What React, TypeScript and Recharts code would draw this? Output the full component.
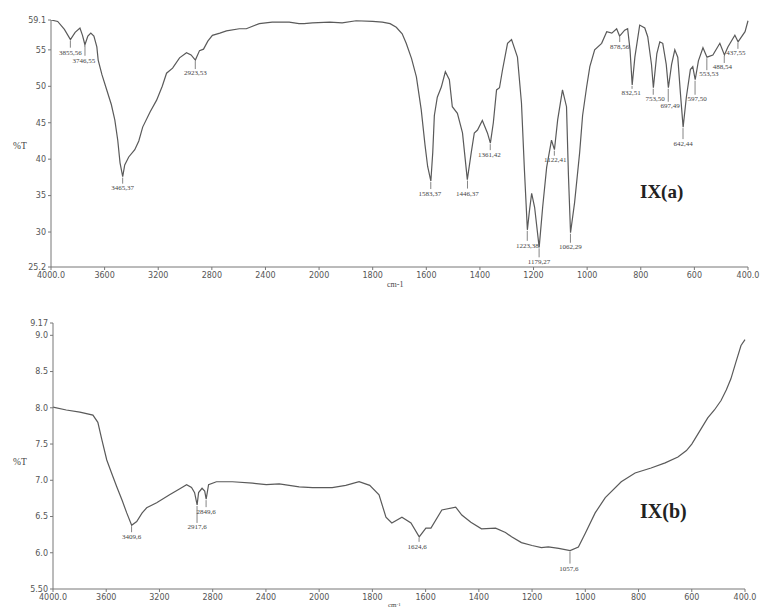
import React from 'react';
import { ComposedChart, Line, XAxis, YAxis, ReferenceDot } from 'recharts';

// IX(a) spectrum: wavenumber (cm-1) and %T
const wavenumbersA = [
  4000, 3950, 3900, 3855, 3820, 3784, 3765, 3747, 3725, 3703, 3680, 3658, 3648, 3620, 3584, 3550,
  3524, 3502, 3485, 3465, 3450, 3420, 3375, 3345, 3316, 3260, 3212, 3170, 3138, 3093, 3041, 2989,
  2955, 2923, 2892, 2862, 2830, 2796, 2740, 2691, 2595, 2543, 2446, 2350, 2223, 2150, 2112, 2050,
  1960, 1914, 1862, 1800, 1764, 1735, 1712, 1690, 1675, 1655, 1637, 1619, 1605, 1595, 1583, 1576,
  1570, 1559, 1544, 1529, 1514, 1503, 1484, 1465, 1447, 1432, 1421, 1409, 1391, 1372, 1361, 1350,
  1338, 1327, 1316, 1297, 1282, 1260, 1245, 1234, 1223, 1215, 1207, 1196, 1179, 1166, 1151, 1133,
  1122, 1110, 1092, 1077, 1070, 1062, 1047, 1028, 1017, 1002, 990, 972, 946, 927, 908, 890,
  879, 860, 849, 840, 832, 822, 804, 785, 774, 760, 753, 740, 729, 718, 705, 697,
  685, 673, 662, 652, 642, 630, 615, 606, 597, 585, 568, 553, 531, 505, 488, 475,
  449, 437, 411, 400,
];
const transmittanceA = [
  59.1, 58.9, 57.8, 56.4, 57.4, 58.0, 57.0, 55.7, 56.9, 57.3, 56.9, 55.4, 53.6, 51.6, 49.5, 47.5,
  45.4, 42.6, 39.5, 37.6, 39.2, 40.3, 41.3, 42.5, 44.4, 46.5, 48.1, 50.0, 51.8, 52.5, 53.9, 54.6,
  54.3, 53.6, 54.9, 55.1, 56.2, 57.0, 57.3, 57.6, 57.9, 57.9, 58.6, 58.8, 58.8, 58.6, 58.6, 58.7,
  58.8, 58.7, 59.0, 58.9, 58.8, 58.6, 58.1, 57.2, 55.9, 53.8, 51.3, 46.8, 42.0, 39.0, 37.0, 40.9,
  46.0, 48.5, 49.9, 52.0, 50.9, 47.2, 46.3, 43.6, 37.2, 41.0, 43.6, 44.0, 45.3, 43.6, 42.2, 45.0,
  49.5, 49.8, 52.2, 55.9, 56.4, 54.0, 47.7, 38.5, 30.3, 33.0, 35.3, 33.4, 27.9, 33.4, 38.9, 42.6,
  41.3, 45.4, 49.5, 47.2, 38.0, 29.9, 34.0, 40.9, 46.0, 49.9, 52.7, 55.0, 55.9, 57.5, 57.3, 57.9,
  56.9, 57.7, 57.9, 55.0, 50.2, 54.0, 58.4, 58.0, 56.8, 53.0, 49.8, 54.5, 56.1, 55.9, 53.0, 49.8,
  53.0, 55.0, 54.0, 49.0, 44.4, 48.5, 52.3, 52.7, 50.9, 53.5, 55.3, 54.0, 54.3, 55.9, 54.3, 55.4,
  57.0, 56.1, 57.5, 59.0,
];

// IX(b) spectrum
const wavenumbersB = [
  4000, 3900, 3798, 3700, 3663, 3633, 3596, 3560, 3521, 3480, 3446, 3409, 3371, 3330, 3296, 3221,
  3124, 3050, 2996, 2959, 2936, 2917, 2906, 2880, 2860, 2849, 2831, 2772, 2652, 2500, 2397, 2300,
  2150, 2050, 1951, 1900, 1850, 1810, 1775, 1749, 1727, 1689, 1655, 1624, 1599, 1580, 1539, 1487,
  1464, 1430, 1390, 1337, 1300, 1277, 1240, 1200, 1165, 1139, 1100, 1057, 1026, 1000, 963, 925,
  865, 813, 753, 700, 652, 620, 600, 580, 560, 540, 515, 490, 470, 453, 435, 415, 400,
];
const transmittanceB = [
  8.01, 7.97, 7.94, 7.90, 7.80, 7.56, 7.28, 7.10, 6.91, 6.72, 6.55, 6.38, 6.43, 6.55, 6.62, 6.69,
  6.80, 6.88, 6.94, 6.90, 6.83, 6.66, 6.83, 6.89, 6.85, 6.74, 6.94, 6.98, 6.98, 6.96, 6.94, 6.95,
  6.91, 6.90, 6.90, 6.93, 6.98, 6.93, 6.80, 6.49, 6.41, 6.49, 6.41, 6.22, 6.34, 6.34, 6.59, 6.63,
  6.52, 6.42, 6.33, 6.34, 6.28, 6.22, 6.14, 6.10, 6.07, 6.08, 6.06, 6.03, 6.08, 6.27, 6.55, 6.76,
  6.98, 7.10, 7.17, 7.24, 7.32, 7.41, 7.50, 7.62, 7.74, 7.86, 7.97, 8.10, 8.25, 8.40, 8.62, 8.86, 8.94,
];

// labelled peaks
const peakLabelsA = [
  '3855,56', '3746,55', '3465,37', '2923,53', '1583,37', '1446,37', '1361,42', '1223,38', '1179,27',
  '1122,41', '1062,29', '878,56', '832,51', '753,50', '697,49', '642,44', '597,50', '553,53',
  '488,54', '437,55',
];
const peakWavenumbersA = [
  3855.56, 3746.55, 3465.37, 2923.53, 1583.37, 1446.37, 1361.42, 1223.38, 1179.27, 1122.41, 1062.29,
  878.56, 832.51, 753.5, 697.49, 642.44, 597.5, 553.53, 488.54, 437.55,
];
const peakValuesA = [
  56.4, 55.7, 37.6, 53.6, 37.0, 37.2, 42.2, 30.3, 27.9, 41.3, 29.9, 56.9, 50.2, 49.8, 49.8, 44.4,
  50.9, 54.0, 54.3, 56.1,
];
const peakLabelsB = ['3409,6', '2917,6', '2849,6', '1624,6', '1057,6'];
const peakWavenumbersB = [3409.6, 2917.6, 2849.6, 1624.6, 1057.6];
const peakValuesB = [6.38, 6.66, 6.74, 6.22, 6.03];

const xTickValues = [4000, 3600, 3200, 2800, 2400, 2000, 1800, 1600, 1400, 1200, 1000, 800, 600, 400];
const yTicksA = [25.2, 30, 35, 40, 45, 50, 55, 59.1];
const yTicksB = [5.5, 6.0, 6.5, 7.0, 7.5, 8.0, 8.5, 9.0, 9.17];

// label placement (tick length, label offset) per peak
const layoutA = [
  [8, 13, 0], [11, 16, -1], [7, 11, 0], [9, 13, 0], [8, 13, -1], [9, 14, 0], [7, 12, -1], [11, 16, 0],
  [10, 15, 0], [6, 10, 1], [10, 14, 0], [6, 11, 0], [4, 8, -1], [7, 11, 2], [14, 18, 2], [12, 17, 0],
  [15, 19, 2], [13, 17, 2], [8, 12, -2], [7, 11, -2],
];
const layoutB = [[7, 12, 0], [18, 22, 0], [8, 13, 0], [5, 10, -2], [13, 18, -1]];

// the x axis is compressed 2:1 above 2000 cm-1
const toT = (w: number) => (w >= 2000 ? (4000 - w) / 2 : 1000 + (2000 - w));
const fromT = (t: number) => (t <= 1000 ? 4000 - 2 * t : 2000 - (t - 1000));

const dataA = wavenumbersA.map((w, i) => ({ t: toT(w), v: transmittanceA[i] }));
const dataB = wavenumbersB.map((w, i) => ({ t: toT(w), v: transmittanceB[i] }));

const xFmt = (t: number) => {
  const w = Math.round(fromT(t));
  return w === 4000 || w === 400 ? w.toFixed(1) : String(w);
};

const tickStyle = { fontSize: 8, fill: '#555', fontFamily: 'DejaVu Sans' };
const lineColor = '#5a5a5a';
const axisColor = '#777';

function peakShape(label: string, len: number, dy: number, dx: number) {
  return (p: any) => (
    <g>
      <line x1={p.cx} y1={p.cy + 1} x2={p.cx} y2={p.cy + len} stroke="#666" strokeWidth={0.8} />
      <text x={p.cx + dx} y={p.cy + dy} fontSize={7} fill="#444" textAnchor="middle"
        dominantBaseline="central" fontFamily="Liberation Serif">{label}</text>
    </g>
  );
}

const textAbs = (x: number, y: number, extra: any = {}) => ({
  position: 'absolute' as const, left: x, top: y, fontFamily: 'Liberation Serif', color: '#444',
  lineHeight: 1, whiteSpace: 'nowrap' as const, ...extra,
});

export default function App() {
  return (
    <div style={{ position: 'absolute', left: 0, top: 0, width: 760, height: 612, background: '#fff', overflow: 'hidden' }}>
      <div style={{ position: 'absolute', left: 0, top: 0 }}>
        <ComposedChart width={760} height={300} data={dataA} margin={{ top: 20, right: 12, bottom: 13, left: 0 }}>
          <XAxis type="number" dataKey="t" domain={[0, 2600]} ticks={xTickValues.map(toT)} tickFormatter={xFmt}
            interval={0} tick={tickStyle} tickSize={3} height={20} axisLine={{ stroke: axisColor }} tickLine={{ stroke: axisColor }} />
          <YAxis type="number" domain={[25.2, 59.1]} ticks={yTicksA} interval={0} allowDataOverflow width={51}
            tick={tickStyle} tickSize={3} axisLine={{ stroke: axisColor }} tickLine={{ stroke: axisColor }} />
          <Line type="linear" dataKey="v" stroke={lineColor} strokeWidth={1.2} dot={false} isAnimationActive={false} />
          {peakWavenumbersA.map((w, i) => (
            <ReferenceDot key={i} x={toT(w)} y={peakValuesA[i]} r={0}
              shape={peakShape(peakLabelsA[i], layoutA[i][0], layoutA[i][1], layoutA[i][2])} />
          ))}
        </ComposedChart>
      </div>
      <div style={{ position: 'absolute', left: 0, top: 300 }}>
        <ComposedChart width={760} height={312} data={dataB} margin={{ top: 23, right: 15, bottom: 3, left: 0 }}>
          <XAxis type="number" dataKey="t" domain={[0, 2600]} ticks={xTickValues.map(toT)} tickFormatter={xFmt}
            interval={0} tick={tickStyle} tickSize={3} height={20} axisLine={{ stroke: axisColor }} tickLine={{ stroke: axisColor }} />
          <YAxis type="number" domain={[5.5, 9.17]} ticks={yTicksB} interval={0} allowDataOverflow width={53}
            tickFormatter={(v: number) => (v === 9.17 ? '9.17' : v === 5.5 ? '5.50' : v.toFixed(1))}
            tick={tickStyle} tickSize={3} axisLine={{ stroke: axisColor }} tickLine={{ stroke: axisColor }} />
          <Line type="linear" dataKey="v" stroke={lineColor} strokeWidth={1.2} dot={false} isAnimationActive={false} />
          {peakWavenumbersB.map((w, i) => (
            <ReferenceDot key={i} x={toT(w)} y={peakValuesB[i]} r={0}
              shape={peakShape(peakLabelsB[i], layoutB[i][0], layoutB[i][1], layoutB[i][2])} />
          ))}
        </ComposedChart>
      </div>
      <div style={textAbs(13, 142, { fontSize: 9.5 })}>%T</div>
      <div style={textAbs(13, 458, { fontSize: 9.5 })}>%T</div>
      <div style={textAbs(387, 281, { fontSize: 8 })}>cm-1</div>
      <div style={textAbs(388, 602, { fontSize: 7 })}>cm<sup style={{ fontSize: 5, verticalAlign: 'top' }}>-1</sup></div>
      <div style={textAbs(640, 182, { fontSize: 19, fontWeight: 'bold', color: '#222' })}>IX(a)</div>
      <div style={textAbs(640, 501, { fontSize: 20, fontWeight: 'bold', color: '#222' })}>IX(b)</div>
    </div>
  );
}
